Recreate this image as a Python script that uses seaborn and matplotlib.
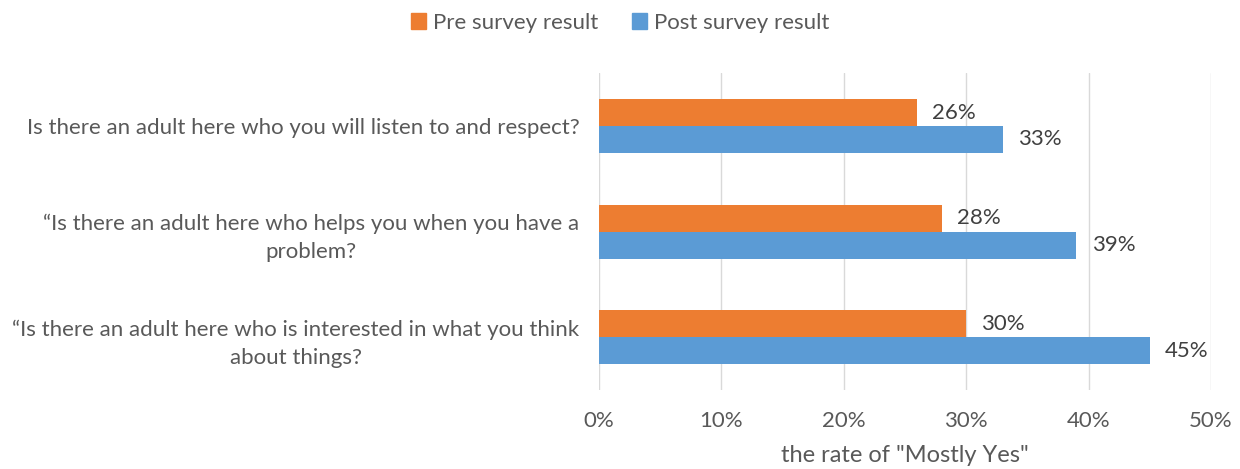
import matplotlib
matplotlib.use("Agg")
import matplotlib.pyplot as plt
import seaborn as sns
import pandas as pd

# data
questions = [
    "Is there an adult here who you will listen to and respect?",
    "\u201cIs there an adult here who helps you when you have a\nproblem?",
    "\u201cIs there an adult here who is interested in what you think\nabout things?",
]
pre_values = [26, 28, 30]
post_values = [33, 39, 45]
series_names = ["Pre survey result", "Post survey result"]
colors = ["#ED7D31", "#5B9BD5"]
ticks = [0, 10, 20, 30, 40, 50]

df = pd.DataFrame({
    "question": questions * 2,
    "value": pre_values + post_values,
    "series": [series_names[0]] * 3 + [series_names[1]] * 3,
})

sns.set_style("white")
plt.rcParams["font.family"] = ["Lato", "DejaVu Sans"]
text_color = "#595959"
fs = 16

fig, ax = plt.subplots(figsize=(12.4, 4.69), dpi=100)
fig.subplots_adjust(left=0.483, right=0.9766, top=0.844, bottom=0.168)

sns.barplot(data=df, y="question", x="value", hue="series", orient="h",
            palette=colors, width=0.51, gap=0, ax=ax, saturation=1,
            linewidth=0, edgecolor="none")

for cont in ax.containers:
    ax.bar_label(cont, labels=[f"{v:.0f}%" for v in cont.datavalues],
                 padding=11, fontsize=fs, color="#404040")

ax.set_xlim(0, 50)
ax.set_ylim(2.5, -0.5)
ax.set_xticks(ticks)
ax.set_xticklabels([f"{t}%" for t in ticks], fontsize=fs, color=text_color)
ax.tick_params(axis="x", length=0, pad=15)
ax.tick_params(axis="y", length=0, pad=14)
for lab in ax.get_yticklabels():
    lab.set_fontsize(fs)
    lab.set_color(text_color)
    lab.set_multialignment("center")
    lab.set_linespacing(1.5)
ax.grid(axis="x", color="#D9D9D9", linewidth=1)
ax.set_axisbelow(True)
for s in ax.spines.values():
    s.set_visible(False)

ax.set_ylabel("")
ax.set_xlabel('the rate of "Mostly Yes"', fontsize=17, color=text_color, labelpad=10)

ax.legend_.remove()
handles = [plt.Rectangle((0, 0), 1, 1, color=c) for c in colors]
fig.legend(handles, series_names, loc="upper center", bbox_to_anchor=(0.5, 1.015),
           ncol=2, frameon=False, fontsize=fs, handlelength=0.7, handleheight=0.7,
           handletextpad=0.3, columnspacing=1.5, labelcolor=text_color)

fig.savefig("out.png", dpi=100)
